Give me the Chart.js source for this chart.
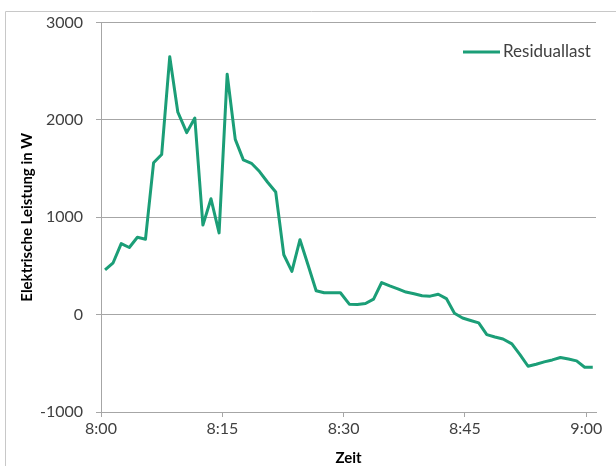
<!DOCTYPE html>
<html>
<head>
<meta charset="utf-8">
<script src="https://cdn.jsdelivr.net/npm/chart.js@4/dist/chart.umd.min.js"></script>
<style>
    html, body { margin: 0; padding: 0; background: #fff; }
    #chart { display: block; }
</style>
</head>
<body>
<canvas id="chart" width="616" height="466"></canvas>
<script>
"use strict";

// Minuten nach 8:00
const zeit = [
    0.5, 1.5, 2.5, 3.5, 4.5, 5.5, 6.5, 7.5, 8.5, 9.5,
    10.6, 11.6, 12.6, 13.6, 14.6, 15.6, 16.6, 17.6, 18.6, 19.6,
    20.6, 21.6, 22.6, 23.6, 24.6, 25.6, 26.6, 27.6, 28.6, 29.6,
    30.7, 31.7, 32.7, 33.7, 34.7, 35.7, 36.7, 37.7, 38.7, 39.7,
    40.7, 41.7, 42.7, 43.7, 44.7, 45.7, 46.7, 47.7, 48.7, 49.7,
    50.8, 51.8, 52.8, 53.8, 54.8, 55.8, 56.8, 57.8, 58.8, 59.8,
    60.8
];

// Residuallast in W
const residuallast = [
    460, 533, 730, 690, 795, 775, 1560, 1645, 2650, 2080,
    1870, 2020, 920, 1190, 840, 2470, 1800, 1590, 1555, 1470,
    1360, 1260, 615, 445, 770, 510, 245, 225, 225, 225,
    108, 104, 114, 160, 330, 295, 265, 232, 215, 195,
    190, 210, 165, 15, -35, -60, -85, -205, -230, -250,
    -300, -410, -530, -510, -485, -465, -440, -455, -475, -540,
    -540
];

const xTickMinuten = [0, 15, 30, 45, 60];
const xTickLabels = ['8:00', '8:15', '8:30', '8:45', '9:00'];
const yTicks = [-1000, 0, 1000, 2000, 3000];

const seriesLabel = 'Residuallast';
const lineColor = '#1b9e77';
const gridColor = '#a6a6a6';
const textColor = '#404040';
const fontFamily = 'Lato, "Open Sans", sans-serif';

// Rahmen + Legende wie im Excel-Diagramm
const frameAndLegend = {
    id: 'frameAndLegend',
    beforeDraw: function (chart) {
        const ctx = chart.ctx;
        ctx.save();
        ctx.strokeStyle = '#c8c8c8';
        ctx.lineWidth = 1;
        ctx.beginPath();
        ctx.moveTo(5.5, 470);
        ctx.lineTo(5.5, 11.5);
        ctx.lineTo(620, 11.5);
        ctx.stroke();
        ctx.restore();
    },
    afterDraw: function (chart) {
        const ctx = chart.ctx;
        const ds = chart.data.datasets[0];
        ctx.save();
        ctx.strokeStyle = ds.borderColor;
        ctx.lineWidth = 3;
        ctx.beginPath();
        ctx.moveTo(463, 52);
        ctx.lineTo(500, 52);
        ctx.stroke();
        ctx.fillStyle = textColor;
        ctx.font = '17px ' + fontFamily;
        ctx.textBaseline = 'middle';
        ctx.textAlign = 'left';
        ctx.fillText(ds.label, 503, 52);
        ctx.restore();
    }
};

new Chart(document.getElementById('chart'), {
    type: 'line',
    data: {
        datasets: [{
            label: seriesLabel,
            data: zeit.map((m, i) => ({x: m, y: residuallast[i]})),
            borderColor: lineColor,
            backgroundColor: lineColor,
            borderWidth: 3,
            pointRadius: 0,
            tension: 0,
            borderJoinStyle: 'round',
            fill: false
        }]
    },
    options: {
        responsive: false,
        animation: false,
        layout: {
            padding: {left: 0, right: 20, top: 22, bottom: 0}
        },
        plugins: {
            legend: {display: false},
            tooltip: {enabled: false}
        },
        scales: {
            x: {
                type: 'linear',
                min: 0,
                max: 61.2,
                afterBuildTicks: (scale) => {
                    scale.ticks = xTickMinuten.map(v => ({value: v}));
                },
                afterFit: (scale) => {
                    scale.height = 54;
                },
                ticks: {
                    autoSkip: false,
                    maxRotation: 0,
                    padding: 2,
                    color: textColor,
                    font: {family: fontFamily, size: 16},
                    callback: (value) => xTickLabels[xTickMinuten.indexOf(value)]
                },
                grid: {
                    drawOnChartArea: false,
                    drawTicks: true,
                    tickLength: 5,
                    color: gridColor
                },
                border: {display: true, color: gridColor},
                title: {
                    display: true,
                    text: 'Zeit',
                    color: '#000',
                    padding: 0,
                    font: {family: fontFamily, size: 15, weight: 'bold', lineHeight: 1}
                }
            },
            y: {
                min: -1000,
                max: 3000,
                afterBuildTicks: (scale) => {
                    scale.ticks = yTicks.map(v => ({value: v}));
                },
                afterFit: (scale) => {
                    scale.width = 101;
                },
                ticks: {
                    padding: 13,
                    color: textColor,
                    font: {family: fontFamily, size: 16},
                    callback: (value) => String(value)
                },
                grid: {
                    color: gridColor,
                    tickLength: 5
                },
                border: {display: true, color: gridColor},
                title: {
                    display: true,
                    text: 'Elektrische Leistung in W',
                    color: '#000',
                    padding: {top: 20, bottom: 0},
                    font: {family: fontFamily, size: 15, weight: 'bold', lineHeight: 1}
                }
            }
        }
    },
    plugins: [frameAndLegend]
});
</script>
</body>
</html>
